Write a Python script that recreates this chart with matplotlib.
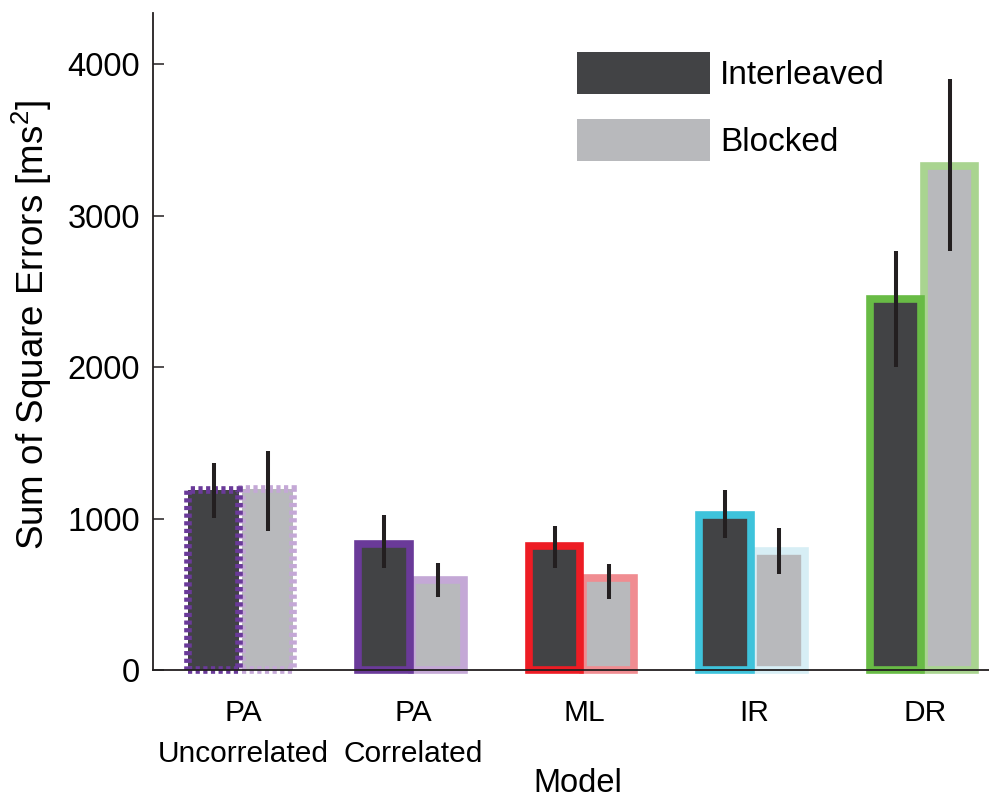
import matplotlib
matplotlib.use('Agg')
import matplotlib.pyplot as plt
import matplotlib.patches as mpatches
import numpy as np

plt.rcParams['font.family'] = ['Liberation Sans', 'DejaVu Sans']
plt.rcParams['mathtext.fontset'] = 'custom'
plt.rcParams['mathtext.rm'] = 'Liberation Sans'
plt.rcParams['mathtext.it'] = 'Liberation Sans'

# data
models = ['PA\nUncorrelated', 'PA\nCorrelated', 'ML', 'IR', 'DR']
interleaved = [1190, 832, 822, 1023, 2449]
blocked = [1195, 594, 607, 785, 3327]
# error bar ends (low, high)
inter_lo = [1005, 675, 675, 873, 2000]
inter_hi = [1364, 1023, 950, 1188, 2766]
block_lo = [917, 480, 467, 636, 2766]
block_hi = [1448, 704, 700, 937, 3901]

dark_edges = ['#6a3a99', '#6a3a99', '#ed1c24', '#3ec3db', '#68bb45']
light_edges = ['#c4a8d6', '#c4a8d6', '#f08c91', '#d7eef5', '#a9d490']
edge_styles = ['dotted', 'solid', 'solid', 'solid', 'solid']

dark_face = '#424345'
light_face = '#b8b9bc'
ink = '#231f20'

fig = plt.figure(figsize=(9.89, 8.01), dpi=100)
ax = fig.add_axes([0.1542, 0.1635, 0.8458, 0.8203])

x = np.arange(len(models))
w = 0.301
lw = 5.5

def ls(style):
    if style == 'dotted':
        return (0, (0.55, 0.45))
    return 'solid'

# blocked first so the interleaved border lies on top
for i in range(len(models)):
    ax.bar(x[i] + 0.144, blocked[i], w, color=light_face,
           edgecolor=light_edges[i], linewidth=lw,
           linestyle=ls(edge_styles[i]), clip_on=False, zorder=1)
for i in range(len(models)):
    ax.bar(x[i] - 0.173, interleaved[i], w, color=dark_face,
           edgecolor=dark_edges[i], linewidth=lw,
           linestyle=ls(edge_styles[i]), clip_on=False, zorder=1.5)

ax.vlines(x - 0.173, inter_lo, inter_hi, color=ink, linewidth=2.9, zorder=3)
ax.vlines(x + 0.144, block_lo, block_hi, color=ink, linewidth=2.9, zorder=3)

ax.set_xlim(-0.531, 4.375)
ax.set_ylim(0, 4337)
ax.set_yticks([0, 1000, 2000, 3000, 4000])
ax.set_yticklabels(['0', '1000', '2000', '3000', '4000'])
ax.tick_params(axis='y', direction='in', length=7.7, width=1.1,
               color=ink, labelsize=23.5, pad=9)
ax.set_xticks(x)
ax.set_xticklabels(models, fontsize=21.5, linespacing=1.58)
ax.tick_params(axis='x', length=0, pad=21)

for s in ['top', 'right']:
    ax.spines[s].set_visible(False)
for s in ['left', 'bottom']:
    ax.spines[s].set_linewidth(1.3)
    ax.spines[s].set_color(ink)
    ax.spines[s].set_zorder(4)

ax.set_ylabel('Sum of Square Errors [ms$^2$]', fontsize=26.5)
ax.yaxis.set_label_coords(-0.118, 0.525)
ax.set_xlabel('Model', fontsize=23.5)
ax.xaxis.set_label_coords(0.5087, -0.149)

h1 = mpatches.Patch(color=dark_face, linewidth=0)
h2 = mpatches.Patch(color=light_face, linewidth=0)
ax.legend([h1, h2], ['Interleaved', 'Blocked'], loc='upper left',
          bbox_to_anchor=(0.5075, 0.9406), frameon=False, fontsize=24,
          handlelength=4.0, handleheight=1.55, handletextpad=0.3,
          labelspacing=0.75, borderpad=0, borderaxespad=0)

plt.savefig('out.png', dpi=100)
